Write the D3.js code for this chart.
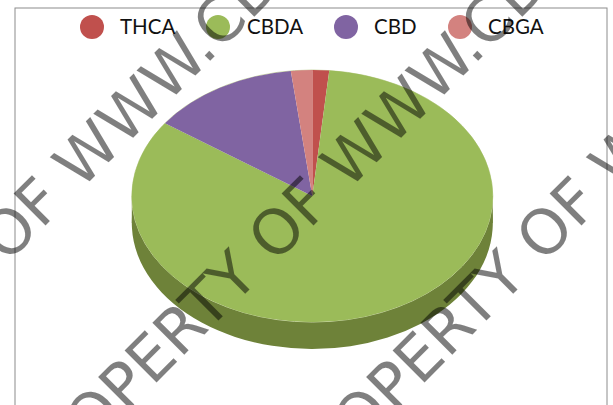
<!DOCTYPE html>
<html><head><meta charset="utf-8">
<script src="https://cdn.jsdelivr.net/npm/d3@7/dist/d3.min.js"></script>
<style>html,body{margin:0;padding:0;background:#fff;overflow:hidden}svg{display:block}</style>
</head><body><svg id="c" width="613" height="405"></svg>
<script>
const categories = ["THCA","CBDA","CBD","CBGA"];
const values = [1.5,83.3,13.3,1.9];
const colors = ["#c0504d","#9bbb59","#8064a2","#d3827f"];
const legendMarkX = [92,218,346,460];
const legendTextX = [120,247,374,488];
const watermarkText = "PROPERTY OF WWW.CBD";
const watermarkOrigins = [[-233.6,504.6],[34.4,504.6],[302.4,504.6]];

const svg = d3.select("#c");
const cx=312.3, cy=196, rx=180.5, ry=126, depth=27;
svg.append("rect").attr("x",15).attr("y",8).attr("width",592).attr("height",420)
  .attr("fill","#fff").attr("stroke","#8c8c8c").attr("stroke-width",1);

const pie = d3.pie().sort(null).value(d=>d)(values);
const arc = d3.arc().innerRadius(0).outerRadius(rx);
const sy = ry/rx;

// side wall
svg.append("rect").attr("x",cx-rx).attr("y",cy).attr("width",2*rx).attr("height",depth).attr("fill","#6e8239");
svg.append("path").attr("transform",`translate(${cx},${cy+depth}) scale(1,${sy})`)
  .attr("d",arc(pie[1])).attr("fill","#6e8239");
// light rim
svg.append("ellipse").attr("cx",cx).attr("cy",cy).attr("rx",rx).attr("ry",ry)
  .attr("fill","none").attr("stroke","#cbd8a8").attr("stroke-width",1);
// top face
svg.append("g").attr("transform",`translate(${cx},${cy}) scale(1,${sy})`)
  .selectAll("path").data(pie).join("path")
  .attr("d",arc).attr("fill",(d,i)=>colors[i]);

// legend
const lg = svg.append("g").selectAll("g").data(categories).join("g");
lg.append("circle").attr("cx",(d,i)=>legendMarkX[i]).attr("cy",27).attr("r",12).attr("fill",(d,i)=>colors[i]);
lg.append("text").attr("x",(d,i)=>legendTextX[i]).attr("y",34)
  .attr("font-family","Lato").attr("font-size",20.5).attr("fill","#111").text(d=>d);

// watermark
svg.append("g").selectAll("text").data(watermarkOrigins).join("text")
  .attr("transform",d=>`translate(${d[0]},${d[1]}) rotate(-45)`)
  .attr("font-family","DejaVu Sans").attr("font-size",62)
  .attr("fill","#000").attr("fill-opacity",0.5).text(watermarkText);
</script></body></html>
